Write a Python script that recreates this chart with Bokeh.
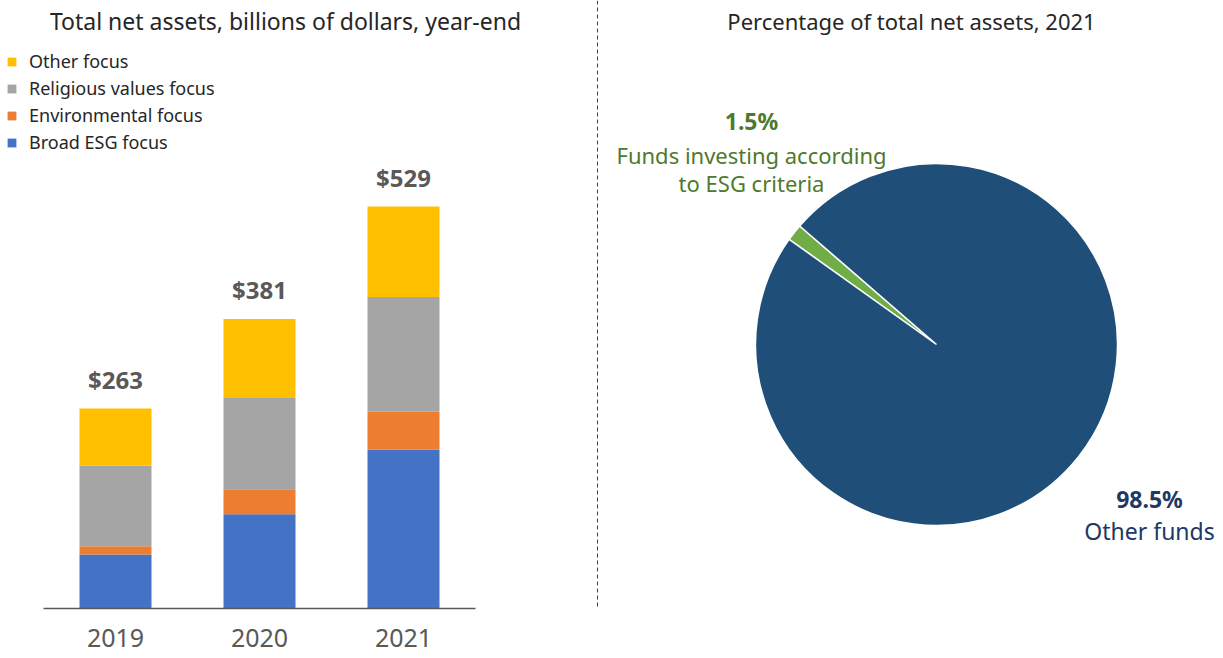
from bokeh.plotting import figure
from bokeh.models import (Range1d, Legend, LegendItem, Label, Span, ColumnDataSource,
                          LinearAxis, FixedTicker)
from bokeh.embed import file_html
from bokeh.resources import INLINE
from bokeh.core.properties import value
import math

# ---- data ----
years = ["2019", "2020", "2021"]
broad_esg = [71, 124, 209]
environmental = [11, 33, 50]
religious = [106, 120, 151]
other_focus = [75, 104, 119]
totals = [263, 381, 529]
total_labels = ["$263", "$381", "$529"]
series_names = ["Broad ESG focus", "Environmental focus", "Religious values focus", "Other focus"]
series_colors = ["#4472c4", "#ed7d31", "#a5a5a5", "#ffc000"]

pie_labels = ["Funds investing according to ESG criteria", "Other funds"]
pie_pct = [1.5, 98.5]
pie_colors = ["#70ad47", "#1f4e79"]

FONT = "Noto Sans"

W, H = 1223, 658
FH = 608  # frame height
p = figure(width=W, height=H, x_range=Range1d(0, W), y_range=Range1d(0, FH),
           x_axis_location=None, y_axis_location=None,
           output_backend="svg", toolbar_location=None,
           min_border_left=0, min_border_right=0, min_border_top=0, min_border_bottom=H - FH)
p.outline_line_color = None
p.grid.visible = False

# bar chart ranges (scaled by the library)
p.extra_y_ranges = {"bars": Range1d(0, FH / 0.76)}
p.extra_x_ranges = {"bars": Range1d(-115 / 144, (W - 115) / 144)}

idx = list(range(len(years)))
src = ColumnDataSource(dict(i=idx, b=broad_esg, e=environmental, r=religious, o=other_focus,
                            t=totals, tl=total_labels))
rends = p.vbar_stack(["b", "e", "r", "o"], x="i", width=0.5, color=series_colors, source=src,
                     line_width=0, x_range_name="bars", y_range_name="bars")

p.text(x="i", y="t", text="tl", source=src, text_align="center", text_baseline="middle",
       y_offset=-29, text_font=value(FONT), text_font_style="bold", text_font_size="24px",
       text_color="#595959", x_range_name="bars", y_range_name="bars")

xaxis = LinearAxis(x_range_name="bars", ticker=FixedTicker(ticks=idx),
                   major_label_overrides={i: y for i, y in zip(idx, years)},
                   bounds=(-0.5, len(years) - 0.5))
xaxis.major_tick_line_color = None
xaxis.minor_tick_line_color = None
xaxis.axis_line_color = "#595959"
xaxis.axis_line_width = 1.5
xaxis.major_label_text_font = FONT
xaxis.major_label_text_font_size = "25px"
xaxis.major_label_text_color = "#595959"
xaxis.major_label_standoff = 14
p.add_layout(xaxis, "below")

items = [LegendItem(label=series_names[i], renderers=[rends[i]]) for i in [3, 2, 1, 0]]
legend = Legend(items=items, location=(6, 454), orientation="vertical",
                glyph_width=11, glyph_height=11, label_height=20, spacing=3, padding=0, margin=0,
                label_standoff=12, label_text_font=FONT, label_text_font_size="18px",
                label_text_color="#262626", border_line_alpha=0, background_fill_alpha=0)
p.add_layout(legend, "center")

def lbl(x, y, t, color, bold=False, size="22px"):
    p.add_layout(Label(x=x, y=y, text=t, text_align="center", text_baseline="middle",
                       text_font=FONT, text_font_size=size, text_color=color,
                       text_font_style="bold" if bold else "normal"))

lbl(285, 588, "Total net assets, billions of dollars, year-end", "#262626", size="23px")
lbl(911, 588, "Percentage of total net assets, 2021", "#262626", size="22px")

# ---- pie ----
start_offset = 139.1
starts, ends = [], []
acc = 0.0
for v in pie_pct:
    starts.append(math.radians(start_offset + acc * 3.6))
    acc += v
    ends.append(math.radians(start_offset + acc * 3.6))
psrc = ColumnDataSource(dict(s=starts, e=ends, c=pie_colors, x=[936, 936], y=[264, 264]))
p.wedge(x="x", y="y", radius=181, start_angle="s", end_angle="e", fill_color="c",
        line_color="white", line_width=1.5, source=psrc)

p.add_layout(Span(location=597, dimension="height", line_color="#404040", line_width=1,
                  line_dash="4 3"))

lbl(751, 488, "1.5%", "#4e7a2b", bold=True, size="23px")
lbl(751, 454, "Funds investing according", "#4e7a2b")
lbl(751, 426, "to ESG criteria", "#4e7a2b")
lbl(1149, 110, "98.5%", "#203864", bold=True, size="23px")
lbl(1149, 78, "Other funds", "#203864", size="23px")

open("out.html", "w").write(file_html(p, INLINE))
